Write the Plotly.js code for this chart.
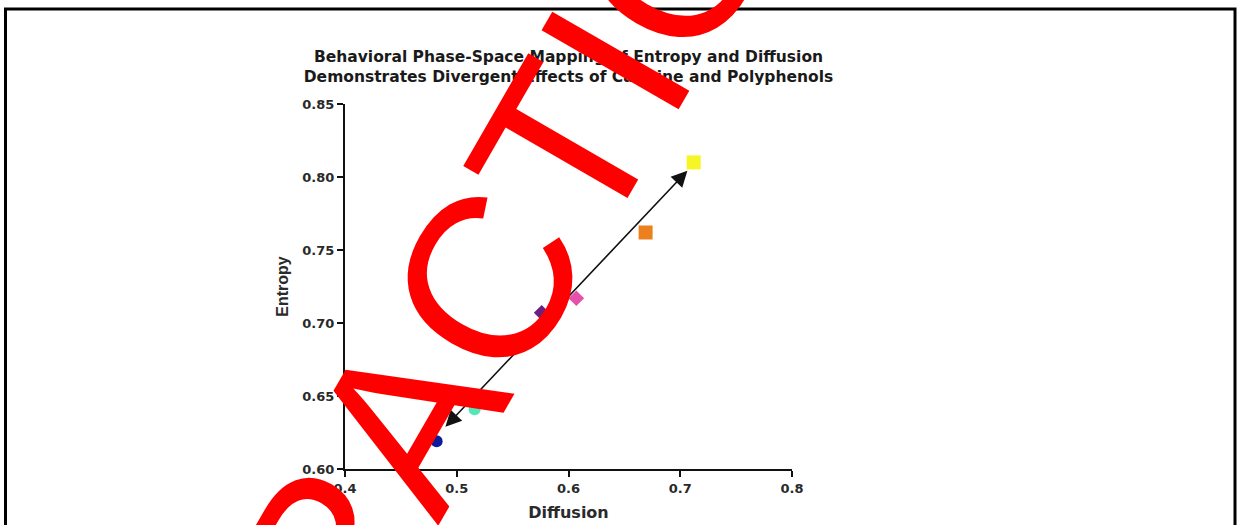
<!DOCTYPE html>
<html>
<head>
<meta charset="utf-8">
<script src="https://cdn.plot.ly/plotly-3.0.1.min.js"></script>
<style>
  html, body { margin: 0; padding: 0; background: #ffffff; }
  #chart { width: 1238px; height: 525px; }
</style>
</head>
<body>
<div id="chart"></div>
<script>
// ---- data ----
const pointLabels = ["Point A", "Point B", "Point C", "Point D", "Point E", "Point F"];
const diffusion = [0.482, 0.516, 0.576, 0.607, 0.669, 0.712];
const entropy   = [0.619, 0.641, 0.707, 0.717, 0.762, 0.810];
const arrowStart = [0.4886, 0.6279];   // lower arrow tip (diffusion, entropy)
const arrowEnd   = [0.7064, 0.8043];   // upper arrow tip (diffusion, entropy)
const xTicks = [0.4, 0.5, 0.6, 0.7, 0.8];
const yTicks = [0.60, 0.65, 0.70, 0.75, 0.80, 0.85];
const titleLines = ["Behavioral Phase-Space Mapping of Entropy and Diffusion",
                    "Demonstrates Divergent Effects of Caffeine and Polyphenols"];
const watermarkText = "RETRACTION";

// ---- styles ----
const markerColors  = ["#0d1a9c", "#52e6b8", "#6b1f7f", "#e650aa", "#ec801f", "#f6f626"];
const markerSymbols = ["circle", "circle", "diamond", "diamond", "square", "square"];
const markerSizes   = [12, 12, 12, 12, 14, 14];

const traces = pointLabels.map((name, i) => ({
  type: "scatter",
  mode: "markers",
  name: name,
  x: [diffusion[i]],
  y: [entropy[i]],
  marker: { color: markerColors[i], symbol: markerSymbols[i], size: markerSizes[i], line: { width: 0 } },
  showlegend: false,
  hoverinfo: "x+y"
}));

const hFont = "DejaVu Sans, Arial, sans-serif";

const layout = {
  width: 1238,
  height: 525,
  margin: { l: 345, r: 446, t: 104, b: 56, pad: 0 },
  paper_bgcolor: "#ffffff",
  plot_bgcolor: "#ffffff",
  showlegend: false,
  title: {
    text: titleLines.join("<br>"),
    font: { family: hFont, size: 15.5, color: "#1a1a1a", weight: "bold" },
    x: 0.5, xref: "paper", xanchor: "center",
    y: 1 - 62 / 525, yref: "container", yanchor: "middle"
  },
  xaxis: {
    range: [0.4, 0.8],
    tickvals: xTicks,
    ticktext: xTicks.map(v => v.toFixed(1)),
    showgrid: false, zeroline: false,
    showline: true, linecolor: "#111111", linewidth: 2,
    ticks: "outside", ticklen: 6, tickwidth: 2, tickcolor: "#111111",
    tickfont: { family: hFont, size: 13, color: "#2a2a2a", weight: "bold" },
    title: { text: "Diffusion", standoff: 12,
             font: { family: hFont, size: 16, color: "#2a2a2a", weight: "bold" } },
    fixedrange: true
  },
  yaxis: {
    range: [0.6, 0.85],
    tickvals: yTicks,
    ticktext: yTicks.map(v => v.toFixed(2)),
    showgrid: false, zeroline: false,
    showline: true, linecolor: "#111111", linewidth: 2,
    ticks: "outside", ticklen: 6, tickwidth: 2, tickcolor: "#111111",
    tickfont: { family: hFont, size: 13, color: "#2a2a2a", weight: "bold" },
    title: { text: "Entropy", standoff: 10,
             font: { family: "Liberation Sans, Arial, sans-serif", size: 16, color: "#2a2a2a", weight: "bold" } },
    fixedrange: true
  },
  shapes: [{
    type: "rect", xref: "paper", yref: "paper",
    x0: (5.5 - 345) / 447, x1: (1235 - 345) / 447,
    y0: (469 - 540) / 365, y1: (469 - 9) / 365,
    line: { color: "#000000", width: 3 }, fillcolor: "rgba(0,0,0,0)", layer: "below"
  }],
  annotations: [
    {
      x: arrowEnd[0], y: arrowEnd[1], xref: "x", yref: "y",
      ax: arrowStart[0], ay: arrowStart[1], axref: "x", ayref: "y",
      text: "", showarrow: true, arrowside: "end+start",
      arrowhead: 2, startarrowhead: 2, arrowsize: 2, startarrowsize: 2,
      arrowwidth: 1.6, arrowcolor: "#111111", standoff: 0, startstandoff: 0
    },
    {
      x: 0.4761, y: 0.6596, xref: "x", yref: "y",
      text: watermarkText, showarrow: false, textangle: -60,
      xanchor: "center", yanchor: "middle",
      font: { family: "Liberation Sans, Arial, sans-serif", size: 230, color: "#ff0000" }
    }
  ]
};

Plotly.newPlot("chart", traces, layout, { displayModeBar: false, staticPlot: true });
</script>
</body>
</html>
